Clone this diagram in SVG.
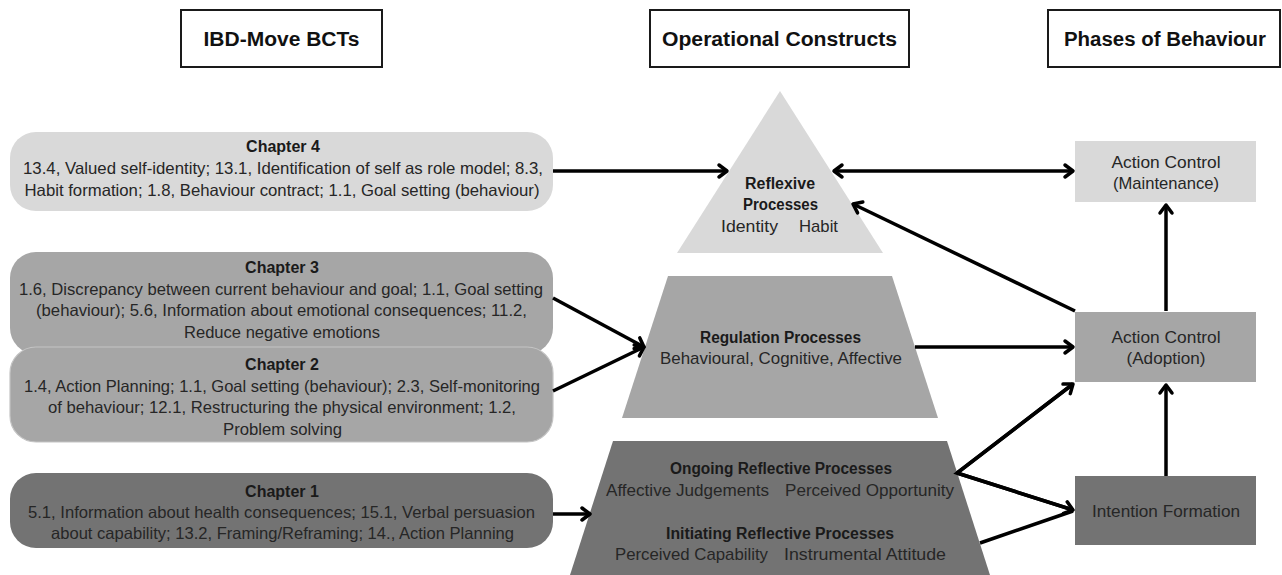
<svg xmlns="http://www.w3.org/2000/svg" width="1282" height="575" viewBox="0 0 1282 575">
<style>
.hdr{fill:#fff;stroke:#1a1a1a;stroke-width:2}
.ht{font-family:"Liberation Sans",Arial,sans-serif;font-weight:bold;font-size:20px;fill:#111;text-anchor:middle}
.t{font-family:"Liberation Sans",Arial,sans-serif;font-size:16.5px;fill:#262626;text-anchor:middle}
.b{font-family:"Liberation Sans",Arial,sans-serif;font-size:16px;font-weight:bold;fill:#1a1a1a;text-anchor:middle}
.r{font-family:"Liberation Sans",Arial,sans-serif;font-size:17px;fill:#262626;text-anchor:middle}
.light{fill:#d9d9d9}
.mid{fill:#a6a6a6}
.dark{fill:#737373}
.c{fill:none;stroke:#000;stroke-width:3.5}
</style>
<defs>
<marker id="ah" viewBox="0 0 14 14" refX="11" refY="7" markerWidth="14" markerHeight="14" markerUnits="userSpaceOnUse" orient="auto-start-reverse" overflow="visible">
<path d="M3,1 L11,7 L3,13" fill="none" stroke="#000" stroke-width="3.5" stroke-linecap="round" stroke-linejoin="round"/>
</marker>
</defs>

<g id="header-bcts">
<rect class="hdr" x="181" y="10" width="201" height="57"/>
<text class="ht" x="281.5" y="46" textLength="156" lengthAdjust="spacingAndGlyphs">IBD-Move BCTs</text>
</g>
<g id="header-constructs">
<rect class="hdr" x="650" y="10" width="259" height="57"/>
<text class="ht" x="779.5" y="46" textLength="235" lengthAdjust="spacingAndGlyphs">Operational Constructs</text>
</g>
<g id="header-phases">
<rect class="hdr" x="1048" y="10" width="232" height="57"/>
<text class="ht" x="1165" y="46" textLength="202" lengthAdjust="spacingAndGlyphs">Phases of Behaviour</text>
</g>

<g id="chapter4">
<rect class="light" x="10" y="132" width="543" height="79" rx="26"/>
<text class="b" x="283" y="152">Chapter 4</text>
<text class="t" x="283" y="174" textLength="520" lengthAdjust="spacingAndGlyphs">13.4, Valued self-identity; 13.1, Identification of self as role model; 8.3,</text>
<text class="t" x="282" y="196" textLength="515" lengthAdjust="spacingAndGlyphs">Habit formation; 1.8, Behaviour contract; 1.1, Goal setting (behaviour)</text>
</g>

<g id="chapter3">
<rect class="mid" x="10" y="252" width="543" height="102" rx="26"/>
<text class="b" x="282" y="273">Chapter 3</text>
<text class="t" x="281" y="294.5" textLength="524" lengthAdjust="spacingAndGlyphs">1.6, Discrepancy between current behaviour and goal; 1.1, Goal setting</text>
<text class="t" x="281.5" y="316" textLength="491" lengthAdjust="spacingAndGlyphs">(behaviour); 5.6, Information about emotional consequences; 11.2,</text>
<text class="t" x="282" y="337.5" textLength="196" lengthAdjust="spacingAndGlyphs">Reduce negative emotions</text>
</g>

<g id="chapter2">
<rect class="mid" x="10" y="347" width="543" height="95" rx="26" stroke="#c4c4c4" stroke-width="1.2"/>
<text class="b" x="282" y="369.5">Chapter 2</text>
<text class="t" x="282" y="391.5" textLength="516" lengthAdjust="spacingAndGlyphs">1.4, Action Planning; 1.1, Goal setting (behaviour); 2.3, Self-monitoring</text>
<text class="t" x="282" y="413" textLength="468" lengthAdjust="spacingAndGlyphs">of behaviour; 12.1, Restructuring the physical environment; 1.2,</text>
<text class="t" x="282.5" y="434.5" textLength="119" lengthAdjust="spacingAndGlyphs">Problem solving</text>
</g>

<g id="chapter1">
<rect class="dark" x="10" y="473" width="543" height="75" rx="26"/>
<text class="b" x="282" y="497">Chapter 1</text>
<text class="t" x="281.5" y="518" textLength="507" lengthAdjust="spacingAndGlyphs">5.1, Information about health consequences; 15.1, Verbal persuasion</text>
<text class="t" x="282.5" y="539" textLength="463" lengthAdjust="spacingAndGlyphs">about capability; 13.2, Framing/Reframing; 14., Action Planning</text>
</g>

<g id="reflexive">
<polygon class="light" points="780,91 883,253 677,253"/>
<text class="b" x="780" y="189" textLength="70" lengthAdjust="spacingAndGlyphs">Reflexive</text>
<text class="b" x="780.5" y="210" textLength="75" lengthAdjust="spacingAndGlyphs">Processes</text>
<text class="r" x="749.5" y="232" textLength="57" lengthAdjust="spacingAndGlyphs">Identity</text>
<text class="r" x="818.5" y="232" textLength="39" lengthAdjust="spacingAndGlyphs">Habit</text>
</g>

<g id="regulation">
<polygon class="mid" points="668,276 892,276 938,418 622,418"/>
<text class="b" x="780.5" y="343" textLength="161" lengthAdjust="spacingAndGlyphs">Regulation Processes</text>
<text class="r" x="781" y="364" textLength="242" lengthAdjust="spacingAndGlyphs">Behavioural, Cognitive, Affective</text>
</g>

<g id="reflective">
<polygon class="dark" points="613,441 947,441 998,600 562,600"/>
<text class="b" x="781" y="474" textLength="222" lengthAdjust="spacingAndGlyphs">Ongoing Reflective Processes</text>
<text class="r" x="687.5" y="496" textLength="163" lengthAdjust="spacingAndGlyphs">Affective Judgements</text>
<text class="r" x="869.5" y="496" textLength="169" lengthAdjust="spacingAndGlyphs">Perceived Opportunity</text>
<text class="b" x="780" y="539" textLength="228" lengthAdjust="spacingAndGlyphs">Initiating Reflective Processes</text>
<text class="r" x="691.5" y="560" textLength="153" lengthAdjust="spacingAndGlyphs">Perceived Capability</text>
<text class="r" x="865" y="560" textLength="162" lengthAdjust="spacingAndGlyphs">Instrumental Attitude</text>
</g>

<g id="maintenance">
<rect class="light" x="1075" y="141" width="181" height="61"/>
<text class="r" x="1166" y="168" textLength="109" lengthAdjust="spacingAndGlyphs">Action Control</text>
<text class="r" x="1166" y="189" textLength="106" lengthAdjust="spacingAndGlyphs">(Maintenance)</text>
</g>

<g id="adoption">
<rect class="mid" x="1075" y="312" width="181" height="70"/>
<text class="r" x="1166" y="343" textLength="109" lengthAdjust="spacingAndGlyphs">Action Control</text>
<text class="r" x="1166" y="364" textLength="79" lengthAdjust="spacingAndGlyphs">(Adoption)</text>
</g>

<g id="intention">
<rect class="dark" x="1075" y="476" width="181" height="69"/>
<text class="r" x="1166" y="517" textLength="148" lengthAdjust="spacingAndGlyphs">Intention Formation</text>
</g>

<g id="connectors">
<line class="c" x1="553" y1="171" x2="727" y2="171" marker-end="url(#ah)"/>
<line class="c" x1="834" y1="171" x2="1073" y2="171" marker-start="url(#ah)" marker-end="url(#ah)"/>
<line class="c" x1="1075" y1="311" x2="853" y2="204" marker-end="url(#ah)"/>
<line class="c" x1="1166" y1="311" x2="1166" y2="205" marker-end="url(#ah)"/>
<line class="c" x1="553" y1="298" x2="644" y2="347" marker-end="url(#ah)"/>
<line class="c" x1="553" y1="391" x2="644" y2="347" marker-end="url(#ah)"/>
<line class="c" x1="915" y1="347" x2="1073" y2="347" marker-end="url(#ah)"/>
<line class="c" x1="553" y1="514" x2="590" y2="514" marker-end="url(#ah)"/>
<polyline class="c" points="1073,384 957,473 1073,510" stroke-linejoin="miter"/>
<line class="c" x1="957" y1="473" x2="1073" y2="384" marker-end="url(#ah)"/>
<line class="c" x1="957" y1="473" x2="1073" y2="510" marker-end="url(#ah)"/>
<line class="c" x1="980" y1="543" x2="1073" y2="511"/>
<line class="c" x1="1166" y1="476" x2="1166" y2="385" marker-end="url(#ah)"/>
</g>
</svg>
